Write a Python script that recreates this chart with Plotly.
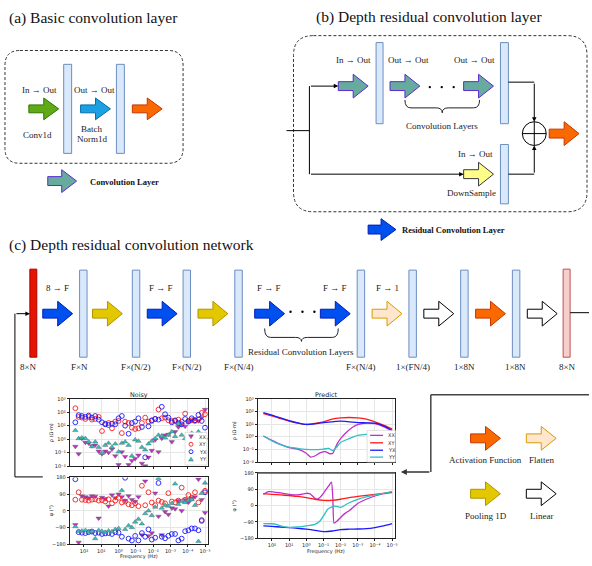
import plotly.graph_objects as go

W, H = 592, 566

# ---------------- data: noisy MT responses (log10 frequency grid) ----------------
NOISY_LOGF = [2.5, 2.31, 2.12, 1.92, 1.73, 1.54, 1.35, 1.15, 0.96, 0.77,
              0.58, 0.38, 0.19, 0.0, -0.19, -0.38, -0.58, -0.77, -0.96, -1.15,
              -1.35, -1.54, -1.73, -1.92, -2.12, -2.31, -2.5, -2.69, -2.88, -3.08,
              -3.27, -3.46, -3.65, -3.85, -4.04, -4.23, -4.42, -4.62, -4.81, -5.0]

NOISY_LOG_RHO_XX = [-0.55, -1.1, 0.05, -0.25, -0.3, -0.5, -0.45, -0.9, -1.1, -0.9,
                    -1.0, -0.75, -1.25, -1.9, -0.95, -1.3, -1.9, -1.6, -1.45, -1.2,
                    -1.8, -2.0, -1.35, -0.85, -0.05, -0.95, 0.05, 0.3, 0.35, -0.2,
                    0.55, 0.9, 1.1, 0.95, 1.3, 1.4, 1.5, 1.35, 1.6, 2.2]
NOISY_LOG_RHO_XY = [2.3, 1.65, 1.6, 1.5, 1.65, 1.45, 1.5, 1.65, 0.6, 1.15,
                    1.2, 0.8, 1.3, 1.35, 0.45, 1.3, 1.2, 0.85, 0.75, 0.8,
                    1.2, 1.6, 1.3, 1.35, 1.5, 2.2, 1.55, 1.6, 1.4, 1.35,
                    1.4, 1.45, 1.3, 1.9, 1.35, 1.4, 1.35, 1.45, 1.95, 1.85]
NOISY_LOG_RHO_YX = [1.25, 1.78, 1.72, 1.65, 1.75, 1.6, 1.72, 1.45, 1.25, 1.1,
                    1.05, 1.15, 1.1, 1.55, 1.72, 1.0, 0.4, 1.2, 1.3, 1.55,
                    0.9, -1.35, 0.95, 1.4, 1.5, 1.45, 2.4, 1.85, 1.6, 1.25,
                    1.35, 1.2, 1.1, 1.5, 1.3, 1.55, 1.4, 1.8, 1.35, 0.85]
NOISY_LOG_RHO_YY = [0.65, 0.05, 0.1, 0.05, -0.2, -0.55, -0.2, -0.6, -1.05, -0.45,
                    -0.3, -0.6, -0.35, -0.95, -0.3, -0.2, -0.45, -1.25, -0.05, -0.15,
                    -0.6, -0.8, -0.35, -0.15, 0.05, 0.3, 0.25, 0.1, 0.3, 0.55,
                    0.2, 1.15, 0.3, 0.05, 0.1, 0.45, 0.1, 0.55, 0.35, 0.1]

NOISY_PHI_XX = [-75, -170, 80, 75, 70, 80, 78, -40, 72, 65,
                25, 85, 70, 90, 75, 55, 80, 60, 50, 75,
                -130, 160, -135, -120, 95, -30, -130, -5, -20, 15,
                10, 55, 0, 60, 45, 70, 75, 170, 60, -10]
NOISY_PHI_XY = [60, 100, 60, 58, 55, 60, 62, 55, 58, 50,
                62, 40, 55, 70, 45, 50, 35, 30, 40, 25,
                135, 30, 100, 45, 30, 55, 48, 40, 95, 50,
                45, 55, 125, 60, 85, 70, 100, 45, -55, 108]
NOISY_PHI_YX = [170, -115, -118, -120, -115, -112, -120, -118, -125, -122,
                -120, -125, -115, -118, -140, 178, -150, -160, -135, -160,
                -120, -140, -100, -155, -145, 150, -140, -148, -135, -125,
                -125, -160, -150, -110, -105, -95, -95, -105, -50, 100]
NOISY_PHI_YY = [-85, -110, -108, -105, -115, -110, -150, -105, -110, -115,
                -108, -112, -100, -95, 110, -100, -80, -90, -60, -45,
                -70, -15, 0, -25, 20, 175, 15, 30, 25, 40,
                145, 35, 50, 45, 55, 60, 30, -165, 95, 150]

# ---------------- data: predicted MT responses ----------------
PRED_LOGF = [2.5, 2.0, 1.5, 1.0, 0.5, 0.0, -0.5, -1.0, -1.5, -2.0, -2.5, -3.0, -3.5, -4.0, -4.5, -5.0]
PRED_LOG_RHO_XY = [1.83, 1.65, 1.44, 1.23, 1.07, 0.97, 1.05, 1.18, 1.39, 1.49, 1.52, 1.49, 1.39, 1.18, 0.92, 0.62]
PRED_LOG_RHO_YX = [1.91, 1.70, 1.49, 1.28, 1.10, 0.97, 1.02, 1.12, 1.18, 1.23, 1.18, 1.12, 1.10, 1.07, 0.86, 0.50]
PRED_PHI_XY = [66, 62, 59, 55, 51, 44, 35, 29, 29, 35, 44, 51, 57, 62, 68, 75]
PRED_PHI_YX = [-112, -115, -118, -121, -125, -130, -136, -143, -140, -132, -130, -129, -127, -121, -112, -99]

PRED_XX_RHO_LOGF = [2.5, 2.0, 1.5, 1.0, 0.5, 0.0, -0.25, -0.5, -0.8, -1.1, -1.35, -1.55, -1.7, -1.85,
                    -2.0, -2.3, -2.7, -3.0, -3.5, -4.0, -4.5, -5.0]
PRED_LOG_RHO_XX = [0.06, -0.28, -0.6, -0.85, -0.98, -1.3, -1.6, -1.52, -1.28, -1.17, -1.33, -1.3, -0.85, -0.45,
                   -0.15, 0.3, 0.75, 0.95, 1.07, 1.03, 0.8, 0.45]
PRED_YY_RHO_LOGF = [2.5, 2.0, 1.5, 1.0, 0.5, 0.0, -0.5, -1.0, -1.3, -1.55, -1.75, -2.0, -2.5, -3.0, -3.5, -4.0, -4.5, -5.0]
PRED_LOG_RHO_YY = [0.06, -0.33, -0.62, -0.82, -0.92, -1.0, -1.02, -0.97, -0.92, -1.1, -0.85, -0.45, -0.15, 0.1, 0.18, 0.2, 0.08, -0.08]

PRED_XX_PHI_LOGF = [2.5, 2.2, 1.5, 1.0, 0.5, 0.0, -0.2, -0.4, -0.6, -0.8, -1.0, -1.2, -1.35, -1.47, -1.55, -1.62,
                    -1.8, -2.0, -2.3, -2.5, -3.0, -3.5, -4.0, -4.5, -5.0]
PRED_PHI_XX = [62, 77, 70, 62, 59, 68, 66, 50, 35, 45, 68, 95, 115, 130, 40, -97,
               -85, -65, -40, -28, 12, 35, 53, 66, 72]
PRED_YY_PHI_LOGF = [2.5, 2.0, 1.75, 1.5, 1.0, 0.5, 0.0, -0.5, -0.8, -1.0, -1.25, -1.5, -1.7, -2.0, -2.3, -2.5,
                    -3.0, -3.5, -4.0, -4.5, -5.0]
PRED_PHI_YY = [-99, -100, -103, -112, -120, -118, -112, -103, -85, -57, -20, -7, -3, -10, 5, 16,
               35, 48, 59, 68, 77]

COMPONENTS = ["XX", "XY", "YX", "YY"]
X_TICK_EXP = [2, 1, 0, -1, -2, -3, -4, -5]
RHO_TICK_EXP = [-2, -1, 0, 1, 2, 3]
PHI_TICKS = [-180, -90, 0, 90, 180]

# ---------------- diagram texts ----------------
TITLES = ["(a) Basic convolution layer", "(b) Depth residual convolution layer",
          "(c) Depth residual convolution network"]
ROW_C_OPS = ["8 → F", "F → F", "F → F", "F → F", "F → 1"]
ROW_C_DIMS = ["8×N", "F×N", "F×(N/2)", "F×(N/2)", "F×(N/4)", "F×(N/4)", "1×(FN/4)", "1×8N", "1×8N", "8×N"]
LEGEND_NAMES = ["Activation Function", "Flatten", "Pooling 1D", "Linear"]

# ---------------- styles ----------------
SERIF = "Times New Roman, Liberation Serif, serif"
SANS = "DejaVu Sans, sans-serif"
STY = {
    "green": ("#60a917", "#2d7600"), "lblue": ("#1ba1e2", "#006eaf"), "orange": ("#fa6800", "#c73500"),
    "teal": ("#67ab9f", "#5a2ad0"), "yellow": ("#ffff88", "#36393d"), "blue": ("#0050ef", "#001dbc"),
    "pool": ("#e3c800", "#b09500"), "flat": ("#ffe6cc", "#d79b00"), "lin": ("#ffffff", "#000000"),
}
COMP_COLORS = {"XX": "#c030c8", "XY": "#ff1a1a", "YX": "#1a1aff", "YY": "#30c0c0"}
TINY = 5.0
SUPER = str.maketrans("0123456789-", "⁰¹²³⁴⁵⁶⁷⁸⁹⁻")

shapes, annots = [], []


def block_arrow(x0, yc, kind, w=30, h=24, bh=9, hl=15):
    xb = x0 + w - hl
    pts = [(x0, yc - bh / 2), (xb, yc - bh / 2), (xb, yc - h / 2), (x0 + w, yc),
           (xb, yc + h / 2), (xb, yc + bh / 2), (x0, yc + bh / 2)]
    path = "M " + " L ".join(f"{x},{y}" for x, y in pts) + " Z"
    fill, line = STY[kind]
    shapes.append(dict(type="path", path=path, xref="x", yref="y", fillcolor=fill,
                       line=dict(color=line, width=1)))


def bar(x0, y0, x1, y1, fill="#dae8fc", line="#6c8ebf"):
    shapes.append(dict(type="rect", x0=x0, y0=y0, x1=x1, y1=y1, xref="x", yref="y",
                       fillcolor=fill, line=dict(color=line, width=1)))


def seg(x0, y0, x1, y1, color="#000", width=1):
    shapes.append(dict(type="line", x0=x0, y0=y0, x1=x1, y1=y1, xref="x", yref="y",
                       line=dict(color=color, width=width)))


def arrow_line(tx, ty, fx, fy, color="#000", width=1):
    annots.append(dict(x=tx, y=ty, ax=fx, ay=fy, xref="x", yref="y", axref="x", ayref="y",
                       text="", showarrow=True, arrowhead=2, arrowsize=0.9, arrowwidth=width,
                       arrowcolor=color, standoff=0, startstandoff=0))


def rrect(x0, y0, x1, y1, r):
    p = (f"M {x0+r},{y0} L {x1-r},{y0} Q {x1},{y0} {x1},{y0+r} L {x1},{y1-r} Q {x1},{y1} {x1-r},{y1} "
         f"L {x0+r},{y1} Q {x0},{y1} {x0},{y1-r} L {x0},{y0+r} Q {x0},{y0} {x0+r},{y0} Z")
    shapes.append(dict(type="path", path=p, xref="x", yref="y", line=dict(color="#333", width=1, dash="3px,2px")))


def brace(x0, x1, ya, yb, yt, r=6):
    xc = (x0 + x1) / 2
    p = (f"M {x0},{ya} Q {x0},{yb} {x0+r},{yb} L {xc-r},{yb} Q {xc},{yb} {xc},{yt} "
         f"Q {xc},{yb} {xc+r},{yb} L {x1-r},{yb} Q {x1},{yb} {x1},{ya}")
    shapes.append(dict(type="path", path=p, xref="x", yref="y", line=dict(color="#222", width=1)))


def dots(xs, y):
    for x in xs:
        shapes.append(dict(type="circle", x0=x - 1.2, x1=x + 1.2, y0=y - 1.2, y1=y + 1.2, xref="x", yref="y",
                           fillcolor="#000", line=dict(width=0)))


def txt(x, y, s, size=9, anchor="center", bold=False, family=SERIF, color="#222", angle=0):
    if bold:
        s = f"<b>{s}</b>"
    annots.append(dict(x=x, y=y, xref="x", yref="y", text=s, showarrow=False, xanchor=anchor, yanchor="middle",
                       font=dict(family=family, size=size, color=color), textangle=angle))


# ---------------- (a) ----------------
txt(7, 15, TITLES[0], size=15.5, anchor="left", color="#111")
rrect(5, 48, 184, 162, 15)
bar(64, 62, 72, 152)
bar(117, 62, 125, 152)
block_arrow(29, 107, "green", h=22, bh=8)
block_arrow(81, 107, "lblue", h=22, bh=8)
block_arrow(133, 107, "orange", h=22, bh=8)
txt(40, 88, "In → Out")
txt(95, 88, "Out → Out")
txt(38, 133, "Conv1d")
txt(92, 127, "Batch")
txt(92, 137, "Norm1d")
block_arrow(48, 180, "teal", w=29, h=23)
txt(88, 181, "Convolution Layer", size=8.5, anchor="left", bold=True, color="#111")

# ---------------- (b) ----------------
txt(316, 14, TITLES[1], size=15.5, anchor="left", color="#111")
rrect(295, 33, 590, 211, 20)
bar(378, 40, 385, 122)
bar(503, 40, 511, 122)
bar(503, 143, 511, 203)
block_arrow(340, 84, "teal")
block_arrow(392, 84, "teal")
block_arrow(466, 84, "teal")
dots([432, 444, 456], 85)
txt(355, 58, "In → Out")
txt(411, 58, "Out → Out")
txt(477, 58, "Out → Out")
brace(407, 482, 98, 106, 111)
txt(444, 124, "Convolution Layers")
seg(288, 129, 311, 129)
seg(311, 84, 311, 173)
arrow_line(340, 84, 311, 84)
block_arrow(466, 173, "yellow")
arrow_line(466, 173, 311, 173)
txt(478, 153, "In → Out")
txt(474, 192, "DownSample")
seg(511, 80, 537, 80)
arrow_line(537, 120, 537, 80)
seg(511, 173, 537, 173)
arrow_line(537, 144, 537, 173)
shapes.append(dict(type="circle", x0=525, x1=549, y0=120, y1=144, xref="x", yref="y", line=dict(color="#000", width=1)))
seg(525, 132, 549, 132)
seg(537, 120, 537, 144)
block_arrow(552, 132, "orange")
block_arrow(370, 229, "blue", w=28, h=22)
txt(402, 229, "Residual Convolution Layer", size=8.5, anchor="left", bold=True, color="#111")

# ---------------- (c) ----------------
txt(7, 245, TITLES[2], size=15.5, anchor="left", color="#111")
bar(30, 269, 37, 358, fill="#e51400", line="#b20000")
for bx in [80, 133, 184, 236, 359, 411, 463, 515]:
    bar(bx, 270, bx + 7.5, 358)
bar(566, 269, 573, 358, fill="#f8cecc", line="#b85450")
for ax0, kind in [(43, "blue"), (93, "pool"), (148, "blue"), (199, "pool"), (256, "blue"), (322, "blue"),
                  (374, "flat"), (426, "lin"), (478, "orange"), (530, "lin")]:
    block_arrow(ax0, 314, kind, h=25, bh=9)
dots([292, 304, 316], 312)
for x, s in zip([58, 162, 270, 337, 389], ROW_C_OPS):
    txt(x, 288, s)
for x, s in zip([29, 80, 137, 188, 240, 363, 415, 467, 518, 570], ROW_C_DIMS):
    txt(x, 368, s)
brace(266, 340, 329, 338, 342)
txt(303, 353, "Residual Convolution Layers")
seg(15, 314, 15, 479)
seg(15, 479, 43, 479)
arrow_line(30, 314, 15, 314)
seg(573, 313, 592, 313)
seg(433, 396, 592, 396, color="#444", width=1.5)
seg(433, 396, 433, 474, color="#444", width=1.5)
arrow_line(403, 474, 433, 474, color="#333", width=1.3)

# right-side legend
for (x0, yc, kind), (lx, ly), name in zip(
        [(473, 440, "orange"), (529, 440, "flat"), (473, 496, "pool"), (529, 496, "lin")],
        [(488, 462), (544, 462), (488, 518), (544, 518)], LEGEND_NAMES):
    block_arrow(x0, yc, kind)
    txt(lx, ly, name)

# ---------------- mini plots ----------------
def px(x):
    return x / W


def py(y):
    return 1 - y / H


NOISY_X = [70, 209]
PRED_X = [259, 397]
XRANGE = [2.83, -5.17]

fig = go.Figure()
fig.add_trace(go.Scatter(x=[None], y=[None], xaxis="x", yaxis="y", showlegend=False, hoverinfo="skip"))


def sup(e):
    return "10" + str(e).translate(SUPER)


axis_common = dict(showline=True, mirror=True, linecolor="#222", linewidth=0.8, ticks="outside", ticklen=2,
                   tickwidth=0.6, tickcolor="#222", showgrid=True, gridcolor="#e6e6e6", gridwidth=0.6,
                   zeroline=False, fixedrange=True, tickfont=dict(family=SANS, size=TINY, color="#222"))

layout_axes = {}
panels = [  # (axis id, xdomain px, ydomain px, kind, show x labels)
    (2, NOISY_X, (400, 468), "rho", False),
    (3, NOISY_X, (479.5, 547), "phi", True),
    (4, PRED_X, (400, 464), "rho", False),
    (5, PRED_X, (475, 541), "phi", True),
]
for n, xd, yd, kind, showx in panels:
    layout_axes[f"xaxis{n}"] = dict(axis_common, type="log", range=XRANGE, domain=[px(xd[0]), px(xd[1])],
                                    anchor=f"y{n}", tickmode="array", tickvals=[10.0 ** e for e in X_TICK_EXP],
                                    ticktext=[sup(e) for e in X_TICK_EXP], showticklabels=showx)
    if kind == "rho":
        layout_axes[f"yaxis{n}"] = dict(axis_common, type="log", range=[-2, 3], domain=[py(yd[1]), py(yd[0])],
                                        anchor=f"x{n}", tickmode="array",
                                        tickvals=[10.0 ** e for e in RHO_TICK_EXP],
                                        ticktext=[sup(e) for e in RHO_TICK_EXP])
    else:
        layout_axes[f"yaxis{n}"] = dict(axis_common, range=[-180, 180], domain=[py(yd[1]), py(yd[0])],
                                        anchor=f"x{n}", tickmode="array", tickvals=PHI_TICKS,
                                        ticktext=[str(v).replace("-", "−") for v in PHI_TICKS])

# noisy markers
noisy_rho = {"XX": NOISY_LOG_RHO_XX, "XY": NOISY_LOG_RHO_XY, "YX": NOISY_LOG_RHO_YX, "YY": NOISY_LOG_RHO_YY}
noisy_phi = {"XX": NOISY_PHI_XX, "XY": NOISY_PHI_XY, "YX": NOISY_PHI_YX, "YY": NOISY_PHI_YY}
symbols = {"XX": "triangle-down", "XY": "circle-open", "YX": "circle-open", "YY": "triangle-up"}
freqs = [10.0 ** v for v in NOISY_LOGF]
for c in COMPONENTS:
    mk = dict(symbol=symbols[c], size=4.8, color=COMP_COLORS[c], line=dict(width=0.9, color=COMP_COLORS[c]))
    if "open" not in symbols[c]:
        mk = dict(symbol=symbols[c], size=4.8, color=COMP_COLORS[c], line=dict(width=0.4, color="#555"))
    fig.add_trace(go.Scatter(x=freqs, y=[10.0 ** v for v in noisy_rho[c]], mode="markers", marker=mk,
                             xaxis="x2", yaxis="y2", showlegend=False, name=c))
    fig.add_trace(go.Scatter(x=freqs, y=noisy_phi[c], mode="markers", marker=mk,
                             xaxis="x3", yaxis="y3", showlegend=False, name=c))

# predicted curves
pred_rho = {"XX": (PRED_XX_RHO_LOGF, PRED_LOG_RHO_XX), "XY": (PRED_LOGF, PRED_LOG_RHO_XY),
            "YX": (PRED_LOGF, PRED_LOG_RHO_YX), "YY": (PRED_YY_RHO_LOGF, PRED_LOG_RHO_YY)}
pred_phi = {"XX": (PRED_XX_PHI_LOGF, PRED_PHI_XX), "XY": (PRED_LOGF, PRED_PHI_XY),
            "YX": (PRED_LOGF, PRED_PHI_YX), "YY": (PRED_YY_PHI_LOGF, PRED_PHI_YY)}
for c in COMPONENTS:
    lf, lr = pred_rho[c]
    fig.add_trace(go.Scatter(x=[10.0 ** v for v in lf], y=[10.0 ** v for v in lr], mode="lines",
                             line=dict(color=COMP_COLORS[c], width=1.3, shape="spline", smoothing=0.7),
                             xaxis="x4", yaxis="y4", showlegend=False, name=c))
    lf, lp = pred_phi[c]
    fig.add_trace(go.Scatter(x=[10.0 ** v for v in lf], y=lp, mode="lines",
                             line=dict(color=COMP_COLORS[c], width=1.3, shape="spline", smoothing=0.5),
                             xaxis="x5", yaxis="y5", showlegend=False, name=c))

# thick top edge of predicted phase panel
seg(PRED_X[0], 475, PRED_X[1], 475, color="#555", width=1.8)

# mini plot titles and axis labels
for xc, ytop, xlabel_y, ylx, yl_rho, yl_phi, title in [
        ((NOISY_X[0] + NOISY_X[1]) / 2, 396, 559.5, 52, 434, 513, "Noisy"),
        ((PRED_X[0] + PRED_X[1]) / 2, 396, 554, 236, 432, 508, "Predict")]:
    txt(xc, ytop, title, size=6.4, family=SANS, color="#222")
    txt(xc, xlabel_y, "Frequency (Hz)", size=TINY, family=SANS, color="#222")
    txt(ylx, yl_rho, "ρ (Ω·m)", size=TINY, family=SANS, color="#222", angle=-90)
    txt(ylx, yl_phi, "φ (°)", size=TINY, family=SANS, color="#222", angle=-90)

# noisy legend
shapes.append(dict(type="rect", x0=186, x1=208, y0=434, y1=467, xref="x", yref="y", fillcolor="white",
                   line=dict(color="#cccccc", width=0.6)))
for c, yy in zip(COMPONENTS, [438.5, 446, 453.5, 461]):
    col = COMP_COLORS[c]
    if c == "XX":
        shapes.append(dict(type="path", path=f"M 189.5,{yy-2} L 194.5,{yy-2} L 192,{yy+2} Z", xref="x", yref="y",
                           fillcolor=col, line=dict(color="#555", width=0.4)))
    elif c == "YY":
        shapes.append(dict(type="path", path=f"M 189.5,{yy+2} L 194.5,{yy+2} L 192,{yy-2} Z", xref="x", yref="y",
                           fillcolor=col, line=dict(color="#555", width=0.4)))
    else:
        shapes.append(dict(type="circle", x0=190, x1=194, y0=yy - 2, y1=yy + 2, xref="x", yref="y",
                           line=dict(color=col, width=0.9)))
    txt(198.5, yy, c, size=TINY, anchor="left", family=SANS, color="#333")

# predict legend
shapes.append(dict(type="rect", x0=369, x1=397.5, y0=432, y1=464, xref="x", yref="y", fillcolor="white",
                   line=dict(color="#cccccc", width=0.6)))
for c, yy in zip(COMPONENTS, [437, 444.5, 452, 459]):
    seg(372, yy, 385, yy, color=COMP_COLORS[c], width=1.3)
    txt(388, yy, c, size=TINY, anchor="left", family=SANS, color="#333")

fig.update_layout(
    width=W, height=H, margin=dict(l=0, r=0, t=0, b=0), paper_bgcolor="white", plot_bgcolor="white",
    showlegend=False,
    xaxis=dict(range=[0, W], domain=[0, 1], visible=False, fixedrange=True),
    yaxis=dict(range=[H, 0], domain=[0, 1], visible=False, fixedrange=True),
    shapes=shapes, annotations=annots, **layout_axes,
)
fig.write_html("out.html", config={"displayModeBar": False},
               post_script="document.body.style.margin='0px';document.body.style.padding='0px';")
